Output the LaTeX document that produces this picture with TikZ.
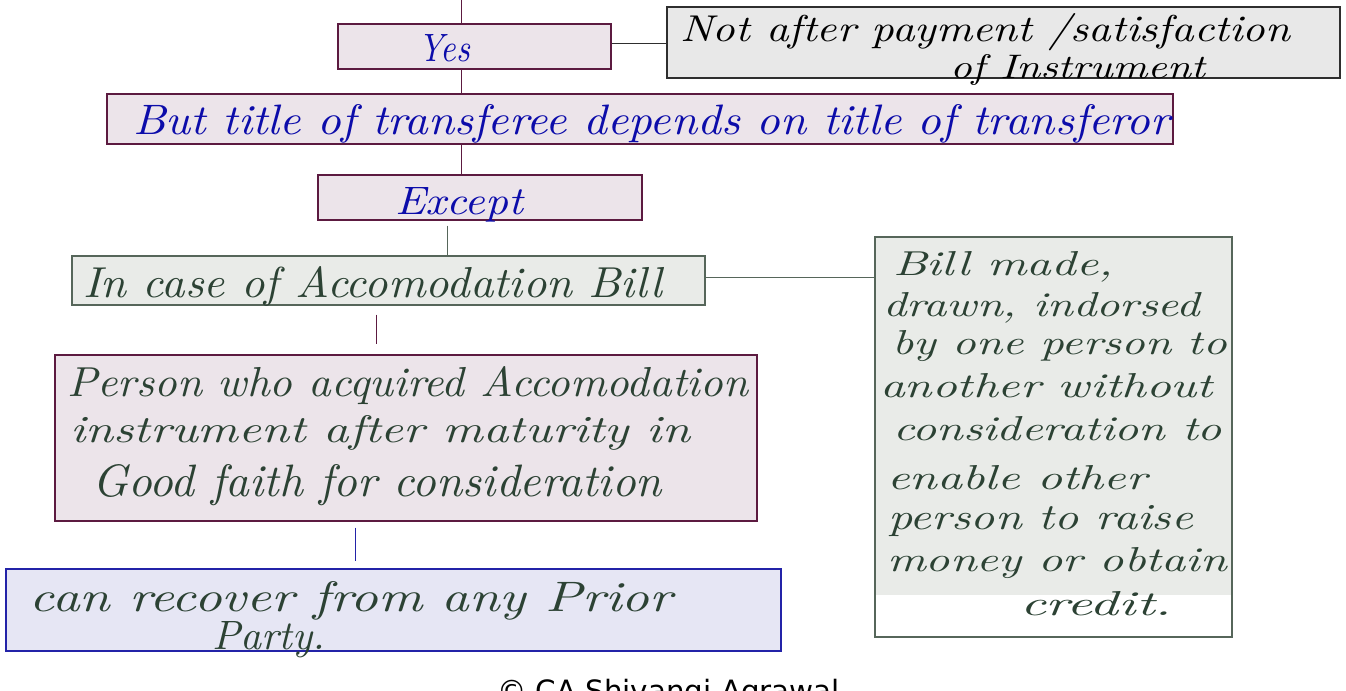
\documentclass[tikz,border=0pt]{standalone}
\usepackage{fontspec}
\usepackage{graphicx}
\newfontfamily\dejavu{DejaVu Sans}
\newdimen\px \px=0.75pt
\newcommand{\hw}[3]{\resizebox{#1\px}{#2\px}{\itshape #3}}
\definecolor{pinkfill}{HTML}{ECE4EA}
\definecolor{maroon}{HTML}{5C1A40}
\definecolor{inkblue}{HTML}{0C0CAA}
\definecolor{greyfill}{HTML}{E8E8E8}
\definecolor{greyline}{HTML}{2E2E2E}
\definecolor{greenfill}{HTML}{E9EBE8}
\definecolor{greenline}{HTML}{56665A}
\definecolor{inkgreen}{HTML}{2C4234}
\definecolor{lavfill}{HTML}{E6E6F4}
\definecolor{lavline}{HTML}{2323A8}
\tikzset{
  boxbase/.style={shape=rectangle, inner sep=0pt, line width=0.9pt},
  pinkbox/.style={boxbase, draw=maroon, fill=pinkfill},
  greybox/.style={boxbase, draw=greyline, fill=greyfill},
  greenbox/.style={boxbase, draw=greenline, fill=greenfill},
  lavbox/.style={boxbase, draw=lavline, fill=lavfill},
  txt/.style={anchor=base west, inner sep=0pt, outer sep=0pt},
  bluetxt/.style={txt, text=inkblue},
  blacktxt/.style={txt, text=black},
  greentxt/.style={txt, text=inkgreen},
  con/.style={line width=0.75pt},
}
\begin{document}
\begin{tikzpicture}[x=0.75pt,y=-0.75pt]
\useasboundingbox (0,0) rectangle (1346,690);
\clip (0,0) rectangle (1346,690);
\fill[white] (0,0) rectangle (1346,690);

% boxes
\node[pinkbox, minimum width=273*\px, minimum height=45*\px] (yes) at (474.5,46.5) {};
\node[greybox, minimum width=673*\px, minimum height=71*\px] (not) at (1003.5,42.5) {};
\node[pinkbox, minimum width=1066*\px, minimum height=50*\px] (but) at (640,119) {};
\node[pinkbox, minimum width=324*\px, minimum height=45*\px] (except) at (480,197.5) {};
\node[greenbox, minimum width=633*\px, minimum height=49*\px] (acc) at (388.5,280.5) {};
\node[boxbase, draw=greenline, fill=white, minimum width=357*\px, minimum height=400*\px,
  path picture={\fill[greenfill] (path picture bounding box.north west) rectangle ([yshift=31.5pt]path picture bounding box.south east);}] (bill) at (1053.5,437) {};
\node[pinkbox, minimum width=702*\px, minimum height=166*\px] (person) at (406,438) {};
\node[lavbox, minimum width=775*\px, minimum height=82*\px] (can) at (393.5,610) {};

% connectors
\coordinate (top) at (461,0);
\coordinate (cx447) at (447,0);
\coordinate (cx376) at (376,0);
\coordinate (cx355) at (355,0);
\draw[con, maroon] (top) -- (top |- yes.north);
\draw[con, maroon] (top |- yes.south) -- (top |- but.north);
\draw[con, maroon] (top |- but.south) -- (top |- except.north);
\draw[con, greyline] ([yshift=2.5pt]yes.east) -- ([yshift=2.5pt]yes.east -| not.west);
\draw[con, greenline, shorten <=3.75pt] (cx447 |- except.south) -- (cx447 |- acc.north);
\draw[con, greenline] ([yshift=2.6pt]acc.east) -- ([yshift=2.6pt]acc.east -| bill.west);
\draw[con, maroon, shorten <=6.75pt, shorten >=7.5pt] (cx376 |- acc.south) -- (cx376 |- person.north);
\draw[con, lavline, shorten <=4.5pt, shorten >=5.25pt] (cx355 |- person.south) -- (cx355 |- can.north);

% texts
\node[bluetxt] (yes-t) at (418,61) {\hw{52}{27}{Yes}};
\node[blacktxt] (not-t1) at (680,41) {\hw{610}{28}{Not after payment /satisfaction}};
\node[blacktxt] (not-t2) at (950,78) {\hw{255}{24}{of Instrument}};
\node[bluetxt] (but-t) at (133,134) {\hw{1037}{30}{But title of transferee depends on title of transferor}};
\node[bluetxt] (except-t) at (395,214) {\hw{128}{27}{Except}};
\node[greentxt] (acc-t) at (83,297) {\hw{579}{31}{In case of Accomodation Bill}};

\node[greentxt] (bill-t1) at (893,275) {\hw{220}{24}{Bill made,}};
\node[greentxt] (bill-t2) at (883,316) {\hw{317}{24}{drawn, indorsed}};
\node[greentxt] (bill-t3) at (892,354) {\hw{335}{24}{by one person to}};
\node[greentxt] (bill-t4) at (880,397) {\hw{333}{24}{another without}};
\node[greentxt] (bill-t5) at (893,440) {\hw{329}{24}{consideration to}};
\node[greentxt] (bill-t6) at (887,489) {\hw{260}{24}{enable other}};
\node[greentxt] (bill-t7) at (888,529) {\hw{305}{24}{person to raise}};
\node[greentxt] (bill-t8) at (887,571) {\hw{340}{24}{money or obtain}};
\node[greentxt] (bill-t9) at (1020,615) {\hw{152}{24}{credit.}};

\node[greentxt] (person-t1) at (67,396) {\hw{681}{30}{Person who acquired Accomodation}};
\node[greentxt] (person-t2) at (70,442) {\hw{620}{27}{instrument after maturity in}};
\node[greentxt] (person-t3) at (92,496) {\hw{570}{32}{Good faith for consideration}};

\node[greentxt] (can-t1) at (30,611) {\hw{642}{30}{can recover from any Prior}};
\node[greentxt] (can-t2) at (212,649) {\hw{113}{28}{Party.}};

\node[txt, text=black] (copy) at (497,701) {\resizebox{343\px}{!}{\dejavu © CA Shivangi Agrawal}};
\end{tikzpicture}
\end{document}
